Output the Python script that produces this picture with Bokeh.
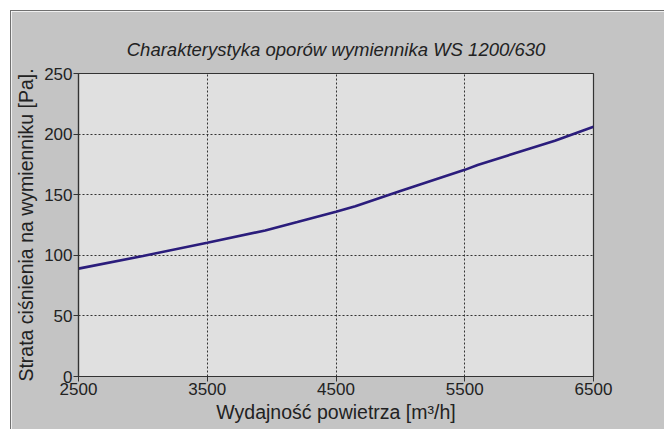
from bokeh.plotting import figure
from bokeh.models import FixedTicker, Range1d
from bokeh.embed import file_html
from bokeh.resources import INLINE

flow = [2500, 3000, 3500, 3950, 4200, 4500, 4650, 5000, 5500, 5600, 6200, 6500]
pressure = [89, 99.5, 110.3, 120.5, 127.5, 136, 140.5, 153, 170.5, 174.5, 194.5, 206]
x_ticks = [2500, 3500, 4500, 5500, 6500]
y_ticks = [0, 50, 100, 150, 200, 250]

FONT = "Liberation Sans"

p = figure(width=654, height=419, output_backend="svg", toolbar_location=None,
           x_range=Range1d(2500, 6500), y_range=Range1d(0, 250),
           min_border_left=67, min_border_right=72, min_border_top=62, min_border_bottom=54,
           background_fill_color="#e0e0e0", border_fill_color="#c4c4c4",
           outline_line_color="#333333", outline_line_width=1.2)

p.title.text = "Charakterystyka oporów wymiennika WS 1200/630"
p.title.text_font = FONT
p.title.text_font_style = "italic"
p.title.text_font_size = "18.5px"
p.title.text_color = "#222222"
p.title.align = "center"
p.title.standoff = 28

p.line(flow, pressure, line_color="#2b1d7c", line_width=2.6)

for ax in (p.xaxis[0], p.yaxis[0]):
    ax.axis_line_color = "#333333"
    ax.axis_line_width = 1.2
    ax.major_tick_line_color = "#333333"
    ax.major_tick_out = 5
    ax.major_tick_in = 0
    ax.minor_tick_line_color = None
    ax.major_label_text_font = FONT
    ax.major_label_text_font_size = "17px"
    ax.major_label_text_color = "#222222"
    ax.axis_label_text_font = FONT
    ax.axis_label_text_font_style = "normal"
    ax.axis_label_text_font_size = "19.5px"
    ax.axis_label_text_color = "#222222"

p.xaxis[0].ticker = FixedTicker(ticks=x_ticks)
p.yaxis[0].ticker = FixedTicker(ticks=y_ticks)
p.xaxis[0].axis_label = "Wydajność powietrza [m³/h]"
p.yaxis[0].axis_label = "Strata ciśnienia na wymienniku [Pa]."
p.xaxis[0].major_label_standoff = 1
p.yaxis[0].major_label_standoff = 1
p.xaxis[0].axis_label_standoff = 3
p.yaxis[0].axis_label_standoff = 4

for g in (p.xgrid[0], p.ygrid[0]):
    g.grid_line_color = "#333333"
    g.grid_line_dash = "2 2"
    g.grid_line_width = 1

p.styles = {"margin-left": "10px", "margin-top": "10px",
            "border-left": "1px solid #707070", "border-top": "1px solid #707070"}

open("out.html", "w").write(file_html(p, INLINE))
